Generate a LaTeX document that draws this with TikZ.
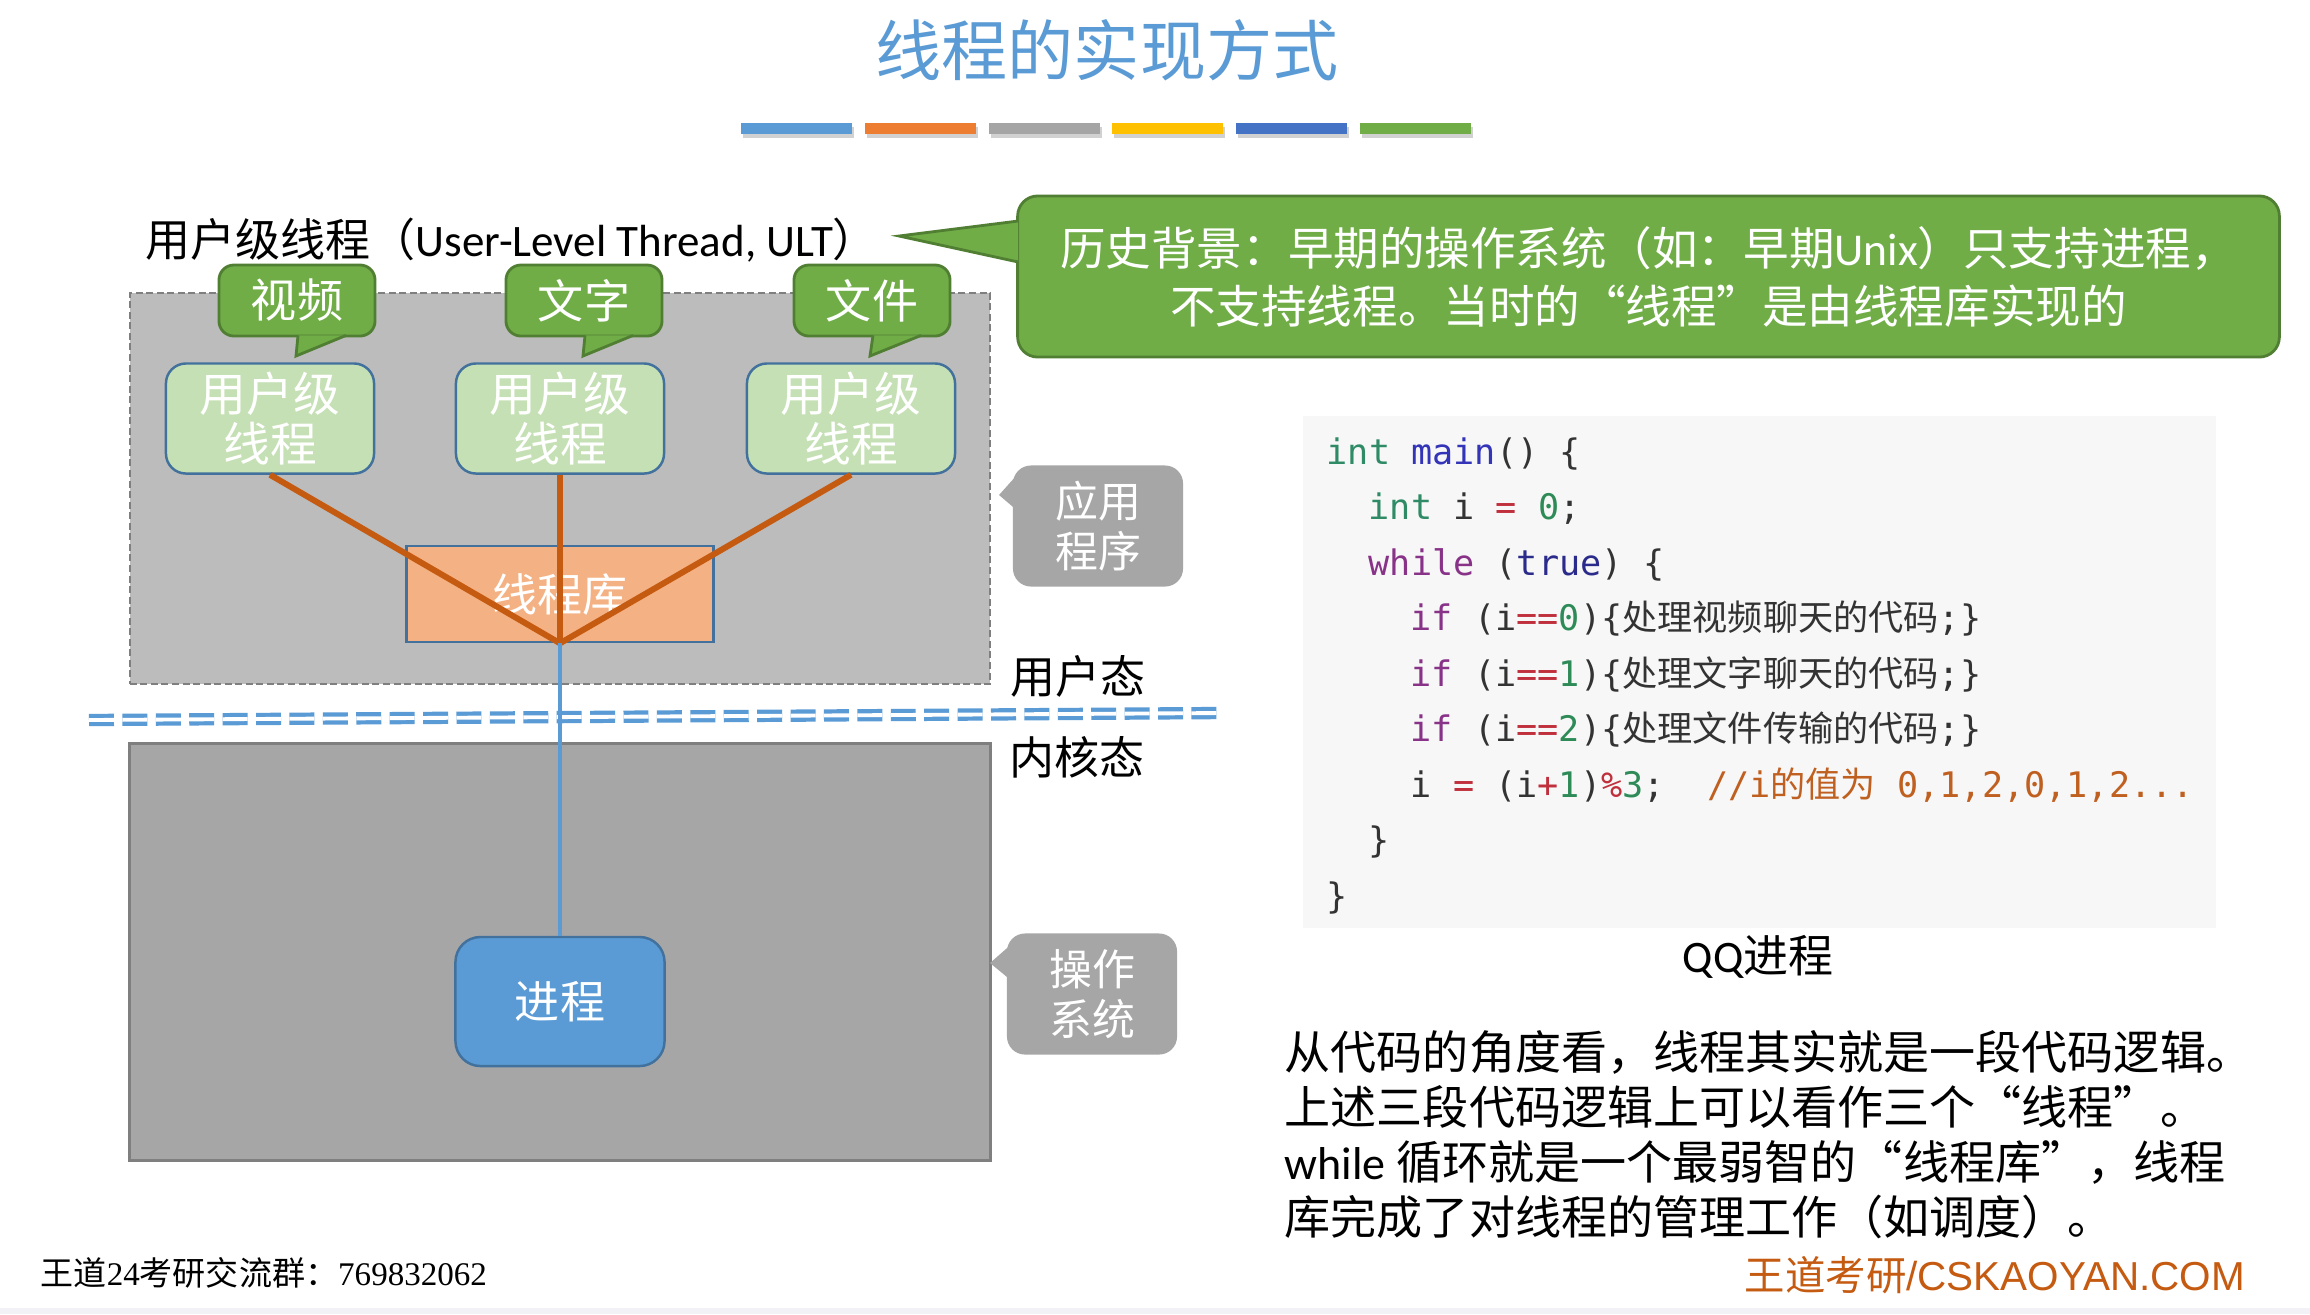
\documentclass[tikz,border=0pt]{standalone}
\usepackage{fontspec}
\setmainfont{Noto Sans CJK SC}
\newfontfamily\latfont{Carlito}
\newfontfamily\codefont{DejaVu Sans Mono}
\newfontfamily\cjkfont{Noto Sans CJK SC}
\newfontfamily\serifzahl{Liberation Serif}
\newfontfamily\arialfont{Liberation Sans}
\usetikzlibrary{positioning}
\definecolor{titelblau}{HTML}{5B9BD5}
\definecolor{balkenorange}{HTML}{ED7D31}
\definecolor{balkengrau}{HTML}{A5A5A5}
\definecolor{balkengelb}{HTML}{FFC000}
\definecolor{balkendunkelblau}{HTML}{4472C4}
\definecolor{gruen}{HTML}{70AD47}
\definecolor{gruenrand}{HTML}{507E32}
\definecolor{hellgruen}{HTML}{C5E0B4}
\definecolor{rahmenblau}{HTML}{41719C}
\definecolor{libfarbe}{HTML}{F4B183}
\definecolor{linkorange}{HTML}{C55A11}
\definecolor{userfarbe}{HTML}{BCBCBC}
\definecolor{kernelfarbe}{HTML}{A6A6A6}
\definecolor{randgrau}{HTML}{7F7F7F}
\definecolor{codegrund}{HTML}{F7F7F7}
\definecolor{codetext}{HTML}{333333}
\definecolor{ctyp}{HTML}{2E8B66}
\definecolor{cdef}{HTML}{3434B8}
\definecolor{ckey}{HTML}{883388}
\definecolor{catom}{HTML}{2B2B8C}
\definecolor{czahl}{HTML}{2E8B57}
\definecolor{cop}{HTML}{C0303C}
\definecolor{ckomm}{HTML}{C06020}
\definecolor{bandgrau}{HTML}{F2F2F6}
\newcommand\cTy[1]{\textcolor{ctyp}{#1}}
\newcommand\cDef[1]{\textcolor{cdef}{#1}}
\newcommand\cKw[1]{\textcolor{ckey}{#1}}
\newcommand\cAt[1]{\textcolor{catom}{#1}}
\newcommand\cNr[1]{\textcolor{czahl}{#1}}
\newcommand\cOp[1]{\textcolor{cop}{#1}}
\newcommand\cKm[1]{\textcolor{ckomm}{#1}}

\begin{document}
\begin{tikzpicture}[x=0.01cm, y=-0.01cm, font=\fontsize{12.8pt}{15.6pt}\selectfont]

    % --- Definition der Stile ---
    \tikzset{
        box/.style={rectangle, draw=rahmenblau, line width=0.7pt, inner sep=0pt, align=center, text=white},
        threadbox/.style={box, fill=hellgruen, rounded corners=0.2cm, minimum width=2.08cm, minimum height=1.10cm, font=\fontsize{13.3pt}{14.2pt}\selectfont},
        libbox/.style={box, fill=libfarbe, minimum width=3.07cm, minimum height=0.96cm},
        procbox/.style={box, fill=titelblau, rounded corners=0.25cm, minimum width=2.09cm, minimum height=1.29cm},
        tag/.style={rectangle, fill=gruen, draw=gruenrand, line width=0.8pt, rounded corners=0.15cm, inner sep=0pt, text=white, minimum width=1.56cm, minimum height=0.71cm, font=\fontsize{13.1pt}{14.2pt}\selectfont},
        tagtail/.style={fill=gruen, draw=gruenrand, line width=0.8pt, line join=miter},
        graubox/.style={rectangle, fill=kernelfarbe, rounded corners=0.18cm, inner sep=0pt, text=white, align=center, minimum width=1.70cm, minimum height=1.21cm, font=\fontsize{12.2pt}{14pt}\selectfont},
        ulink/.style={draw=linkorange, line width=1.7pt},
        klink/.style={draw=titelblau, line width=1.3pt},
        trenner/.style={draw=titelblau, line width=1.2pt, double=white, double distance=1.1pt, dash pattern=on 7.1pt off 2.4pt},
        codeline/.style={anchor=west, inner sep=0pt, text height=0.85em, text depth=0.15em, text=codetext, font=\fontsize{10pt}{12pt}\selectfont\codefont},
        plaintext/.style={inner sep=0pt}
    }

    \path[use as bounding box, fill=white] (0,0) rectangle (2310,1314);
    \fill[bandgrau] (0,1308) rectangle (2310,1314);

    % --- Titel und Farbbalken ---
    \node[plaintext, text=titelblau, font=\fontsize{18.8pt}{20pt}\selectfont] (titel) at (1107,50) {线程的实现方式};
    \foreach \farbe [count=\i from 0] in {titelblau,balkenorange,balkengrau,balkengelb,balkendunkelblau,gruen} {
        \fill[black!18] (743+\i*123.8,127) rectangle ++(111,11);
        \fill[\farbe] (741+\i*123.8,123) rectangle ++(111,11);
    }

    % --- Bereiche Benutzer / Kern ---
    \node[plaintext, anchor=west] (ult) at (145,240) {用户级线程（{\latfont User-Level Thread, ULT}）};
    \node[fill=userfarbe, draw=randgrau, line width=0.6pt, dash pattern=on 2pt off 1pt, minimum width=8.6cm, minimum height=3.91cm] (userspace) at (560,488.5) {};
    \node[fill=kernelfarbe, draw=randgrau, line width=0.9pt, minimum width=8.6cm, minimum height=4.16cm] (kernelspace) at (560,952) {};

    % --- Trennlinie ---
    \coordinate (trennL) at (89,720);
    \coordinate (trennR) at (1222,713);
    \draw[trenner] (trennL) -- (trennR);
    \node[plaintext] (ustate) at (1078,676) {用户态};
    \node[plaintext] (kstate) at (1077,757) {内核态};

    % --- Threads und Bibliothek ---
    \node[libbox] (lib) at (560,594) {线程库};
    \node[threadbox] (thr1) at (270,418.5) {用户级\\线程};
    \node[threadbox] (thr2) at (560,418.5) {用户级\\线程};
    \node[threadbox] (thr3) at (851,418.5) {用户级\\线程};

    % Sprechblasen
    \node[tag] (vid) at (297,300.5) {视频};
    \node[tag] (txt) at (584,300.5) {文字};
    \node[tag] (fil) at (872,300.5) {文件};
    \coordinate (vidtip) at (296,356);
    \coordinate (txttip) at (583,356);
    \coordinate (filtip) at (870,356);
    \filldraw[tagtail] ([shift={(1,-2)}]vid.south) -- (vidtip) -- ([shift={(49,-2)}]vid.south);
    \filldraw[tagtail] ([shift={(1,-2)}]txt.south) -- (txttip) -- ([shift={(49,-2)}]txt.south);
    \filldraw[tagtail] ([shift={(1,-2)}]fil.south) -- (filtip) -- ([shift={(49,-2)}]fil.south);

    % Verbindungen
    \draw[ulink] (thr1.south) -- (lib.south);
    \draw[ulink] (thr2.south) -- (lib.south);
    \draw[ulink] (thr3.south) -- (lib.south);
    \node[procbox] (proc) at (560,1001.5) {进程};
    \draw[klink] (lib.south) -- (proc.north);

    % --- Graue Hinweise ---
    \node[graubox] (app) at (1098,526) {应用\\程序};
    \coordinate (apptip) at (999,495);
    \fill[kernelfarbe] ([shift={(2,-48)}]app.west) -- (apptip) -- ([shift={(2,-18)}]app.west) -- cycle;
    \node[graubox] (os) at (1092,994) {操作\\系统};
    \coordinate (ostip) at (990,963);
    \fill[kernelfarbe] ([shift={(2,-47)}]os.west) -- (ostip) -- ([shift={(2,-16)}]os.west) -- cycle;

    % --- Historischer Hintergrund ---
    \node[tag, minimum width=12.61cm, minimum height=1.61cm, align=center, rounded corners=0.2cm, font=\fontsize{12.95pt}{16.5pt}\selectfont] (hist) at (1648.5,276.5)
        {历史背景：早期的操作系统（如：早期{\latfont Unix}）只支持进程，\\不支持线程。当时的“线程”是由线程库实现的};
    \coordinate (histtip) at (899,236);
    \filldraw[tagtail] ([shift={(2,-55.5)}]hist.west) -- (histtip) -- ([shift={(2,-14.5)}]hist.west);

    % --- Code ---
    \node[fill=codegrund, minimum width=9.13cm, minimum height=5.12cm] (codebox) at (1759.5,672) {};
    \node[codeline] (c1) at (1326,452) {\cTy{int} \cDef{main}() \{};
    \node[codeline] (c2) at (1368,507.5) {\cTy{int} i \cOp{=} \cNr{0};};
    \node[codeline] (c3) at (1368,563) {\cKw{while} (\cAt{true}) \{};
    \node[codeline] (c4) at (1410,618.5) {\cKw{if} (i\cOp{==}\cNr{0})\{{\cjkfont 处理视频聊天的代码};\}};
    \node[codeline] (c5) at (1410,674) {\cKw{if} (i\cOp{==}\cNr{1})\{{\cjkfont 处理文字聊天的代码};\}};
    \node[codeline] (c6) at (1410,729.5) {\cKw{if} (i\cOp{==}\cNr{2})\{{\cjkfont 处理文件传输的代码};\}};
    \node[codeline] (c7) at (1410,785) {i \cOp{=} (i\cOp{+}\cNr{1})\cOp{\%}\cNr{3};\ \ \cKm{//i{\cjkfont 的值为} 0,1,2,0,1,2...}};
    \node[codeline] (c8) at (1368,840.5) {\}};
    \node[codeline] (c9) at (1326,896) {\}};
    \node[plaintext] (qq) at (1758,957) {{\latfont QQ}进程};

    % --- Erklaerung ---
    \node[plaintext, anchor=north west, align=left, font=\fontsize{13.1pt}{15.6pt}\selectfont] (para) at (1284,1030)
        {从代码的角度看，线程其实就是一段代码逻辑。\\
         上述三段代码逻辑上可以看作三个“线程”。\\
         {\latfont while} 循环就是一个最弱智的“线程库”，线程\\
         库完成了对线程的管理工作（如调度）。};

    % --- Fusszeile ---
    \node[plaintext, anchor=west, font=\fontsize{9.4pt}{11pt}\selectfont] (gruppe) at (40,1273) {王道{\serifzahl 24}考研交流群：{\serifzahl 769832062}};
    \node[plaintext, anchor=west, text=linkorange, font=\fontsize{11.5pt}{13pt}\selectfont] (marke) at (1744,1275) {王道考研{\arialfont /CSKAOYAN.COM}};

\end{tikzpicture}
\end{document}
